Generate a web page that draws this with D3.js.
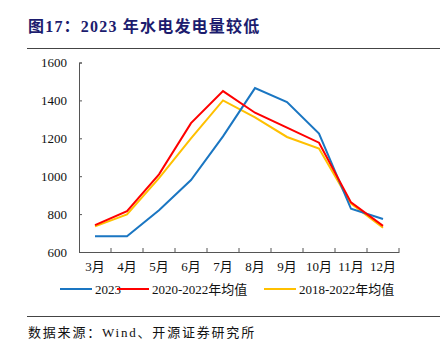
<!DOCTYPE html>
<html>
<head>
<meta charset="utf-8">
<script src="https://cdn.jsdelivr.net/npm/d3@7"></script>
<style>
body { margin: 0; background: #fff; }
text { font-family: "Liberation Serif", "Noto Sans CJK SC", serif; }
</style>
</head>
<body>
<script>
var months = ["3月", "4月", "5月", "6月", "7月", "8月", "9月", "10月", "11月", "12月"];
var yTicks = [600, 800, 1000, 1200, 1400, 1600];
var s2023 = [683, 683, 820, 980, 1210, 1465, 1391, 1225, 828, 774];
var s2020_2022 = [742, 816, 1010, 1280, 1449, 1335, 1256, 1177, 862, 738];
var s2018_2022 = [735, 798, 990, 1200, 1400, 1310, 1207, 1146, 856, 728];
var seriesNames = ["2023", "2020-2022年均值", "2018-2022年均值"];
var colors = ["#1a76c2", "#ff0000", "#ffc000"];

function init(){
    var w = 443, h = 351;
    var left = 79, right = 399, top = 62.5, bottom = 252;

    var svg = d3.select("body").append("svg")
        .attr("width", w)
        .attr("height", h);

    // title
    svg.append("text")
        .attr("x", 28).attr("y", 32)
        .attr("fill", "#1c1c6e")
        .attr("font-size", 16)
        .attr("letter-spacing", 1.2)
        .attr("font-weight", "bold")
        .text("图17：2023 年水电发电量较低");
    svg.append("line")
        .attr("x1", 27).attr("x2", 440)
        .attr("y1", 48.5).attr("y2", 48.5)
        .attr("stroke", "#444").attr("stroke-width", 1);

    var xScale = d3.scaleBand().domain(months).range([left, right]);
    var yScale = d3.scaleLinear().domain([600, 1600]).range([bottom, top]);

    var xAxis = d3.axisBottom(xScale).tickSize(0).tickPadding(10);
    var yAxis = d3.axisLeft(yScale).tickValues(yTicks).tickFormat(d3.format("d"))
        .tickSize(-3).tickPadding(12);

    var gy = svg.append("g")
        .attr("transform", "translate(" + left + ",0)")
        .call(yAxis);
    var gx = svg.append("g")
        .attr("transform", "translate(0," + bottom + ")")
        .call(xAxis);

    // band boundary ticks, pointing up
    svg.append("g").selectAll("line")
        .data(months)
        .enter().append("line")
        .attr("x1", function(d){ return xScale(d) + xScale.bandwidth(); })
        .attr("x2", function(d){ return xScale(d) + xScale.bandwidth(); })
        .attr("y1", bottom).attr("y2", bottom - 4)
        .attr("stroke", "#555");

    [gx, gy].forEach(function(g){
        g.selectAll(".domain").attr("stroke", "#555");
        g.selectAll(".tick line").attr("stroke", "#555");
        g.selectAll("text").attr("font-size", 13).attr("fill", "#111")
            .attr("font-family", "'Liberation Serif', 'Noto Sans CJK SC', serif");
    });

    var all = [s2023, s2020_2022, s2018_2022];
    var line = d3.line()
        .x(function(d, i){ return xScale(months[i]) + xScale.bandwidth() / 2; })
        .y(function(d){ return yScale(d); });

    var order = [2, 0, 1];
    order.forEach(function(k){
        svg.append("path")
            .datum(all[k])
            .attr("d", line)
            .attr("fill", "none")
            .attr("stroke", colors[k])
            .attr("stroke-width", 2);
    });

    // legend
    var legX = [60, 117, 264];
    var leg = svg.append("g");
    seriesNames.forEach(function(name, i){
        leg.append("line")
            .attr("x1", legX[i]).attr("x2", legX[i] + 32)
            .attr("y1", 289).attr("y2", 289)
            .attr("stroke", colors[i]).attr("stroke-width", 2);
        leg.append("text")
            .attr("x", legX[i] + 35).attr("y", 293.5)
            .attr("font-size", 13)
            .attr("fill", "#111")
            .text(name);
    });

    // source
    svg.append("line")
        .attr("x1", 27).attr("x2", 440)
        .attr("y1", 316.5).attr("y2", 316.5)
        .attr("stroke", "#444").attr("stroke-width", 1);
    svg.append("text")
        .attr("x", 28).attr("y", 337)
        .attr("font-size", 13)
        .attr("letter-spacing", 1.8)
        .attr("fill", "#111")
        .text("数据来源：Wind、开源证券研究所");
}
window.onload = init;
</script>
</body>
</html>
